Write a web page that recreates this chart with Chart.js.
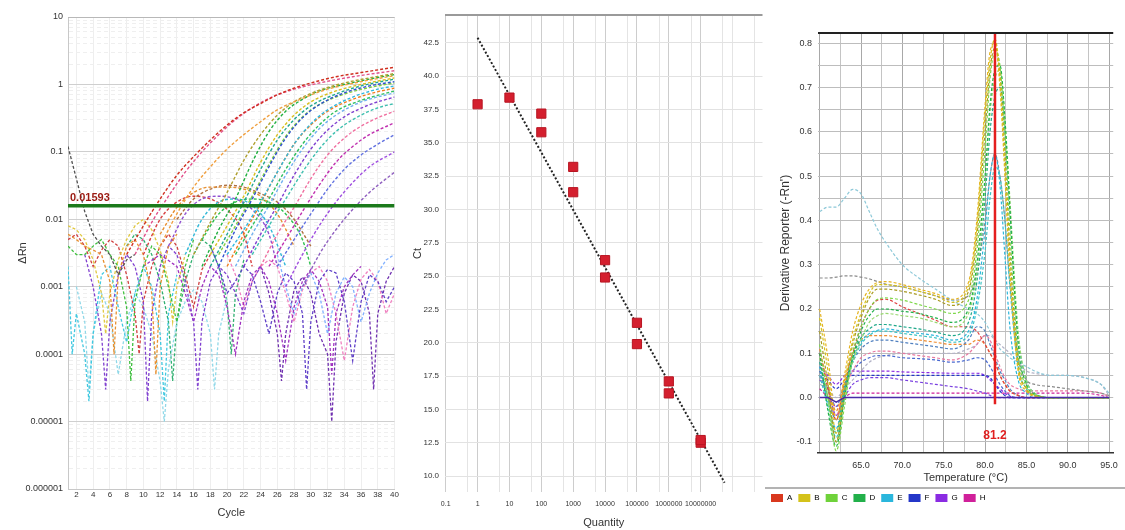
<!DOCTYPE html>
<html>
<head>
<meta charset="utf-8">
<script src="https://cdn.jsdelivr.net/npm/chart.js@4.4.1/dist/chart.umd.min.js"></script>
<style>
  html, body { margin: 0; padding: 0; background: #fff; }
  body { width: 1125px; height: 530px; position: relative; overflow: hidden; }
  canvas { position: absolute; top: 0; }
  #amp { left: 0; }
  #std { left: 400px; }
  #melt { left: 765px; }
</style>
</head>
<body>
<canvas id="amp" width="400" height="530"></canvas>
<canvas id="std" width="370" height="530"></canvas>
<canvas id="melt" width="360" height="530"></canvas>
<script>
(function () {
  'use strict';

  // ---- panel 1: amplification plot (cycle vs dRn, log) ----
  const CYCLE_TICKS = [2, 4, 6, 8, 10, 12, 14, 16, 18, 20, 22, 24, 26, 28, 30, 32, 34, 36, 38, 40];
  const DRN_TICKS = [10, 1, 0.1, 0.01, 0.001, 0.0001, 0.00001, 0.000001];
  const DRN_TICK_LABELS = ['10', '1', '0.1', '0.01', '0.001', '0.0001', '0.00001', '0.000001'];
  const THRESHOLD = 0.01593;
  const THRESHOLD_LABEL = '0.01593';

  // [cycle, dRn]
  const ampRed = [[8,0.003],[10,0.008],[12,0.02],[14,0.045],[16,0.085],[18,0.15],[20,0.25],[22,0.38],[24,0.52],[26,0.7],[28,0.88],[30,1.05],[33,1.3],[36,1.5],[40,1.8]];
  const ampPink = [[9,0.003],[11,0.009],[13,0.022],[15,0.05],[17,0.1],[19,0.18],[21,0.3],[23,0.45],[25,0.62],[28,0.85],[31,1.05],[35,1.3],[40,1.6]];
  const ampAmber = [[12,0.004],[14,0.012],[16,0.03],[18,0.06],[20,0.11],[22,0.18],[24,0.28],[26,0.42],[29,0.62],[32,0.85],[36,1.1],[40,1.35]];
  const ampOlive = [[16,0.003],[18,0.009],[20,0.025],[22,0.075],[24,0.18],[26,0.35],[28,0.55],[31,0.82],[34,1.05],[37,1.25],[40,1.45]];
  const ampGreen = [[17,0.002],[19,0.007],[21,0.02],[23,0.07],[25,0.2],[27,0.4],[29,0.6],[31,0.8],[34,1.0],[37,1.2],[40,1.4]];
  const ampYellow = [[18,0.003],[20,0.008],[22,0.022],[24,0.07],[26,0.18],[28,0.35],[30,0.55],[33,0.8],[36,1.0],[40,1.25]];
  const ampTeal = [[18,0.002],[20,0.006],[22,0.018],[24,0.055],[26,0.15],[28,0.3],[30,0.48],[33,0.72],[36,0.95],[40,1.2]];
  const ampBlue = [[19,0.002],[21,0.007],[23,0.02],[25,0.06],[27,0.16],[29,0.32],[31,0.5],[34,0.75],[37,0.95],[40,1.1]];
  const ampLime = [[19,0.003],[21,0.008],[23,0.022],[25,0.065],[27,0.17],[29,0.33],[31,0.5],[34,0.72],[37,0.9],[40,1.05]];
  const ampCyan = [[20,0.003],[22,0.007],[24,0.018],[26,0.05],[28,0.13],[30,0.26],[32,0.42],[35,0.65],[38,0.85],[40,0.95]];
  const ampOrange = [[20,0.002],[22,0.006],[24,0.017],[26,0.05],[28,0.13],[30,0.25],[32,0.4],[35,0.6],[38,0.78],[40,0.88]];
  const ampJade = [[21,0.003],[23,0.008],[25,0.02],[27,0.055],[29,0.13],[31,0.25],[33,0.4],[36,0.58],[40,0.8]];
  const ampSky = [[21,0.002],[23,0.006],[25,0.016],[27,0.045],[29,0.11],[31,0.22],[33,0.35],[36,0.55],[40,0.75]];
  const ampPurple = [[22,0.002],[24,0.006],[26,0.016],[28,0.045],[30,0.11],[32,0.21],[34,0.33],[37,0.5],[40,0.65]];
  const ampAqua = [[23,0.003],[25,0.008],[27,0.02],[29,0.05],[31,0.11],[33,0.2],[35,0.3],[38,0.45],[40,0.52]];
  const ampRose = [[24,0.002],[26,0.006],[28,0.015],[30,0.04],[32,0.09],[34,0.16],[36,0.24],[38,0.32],[40,0.4]];
  const ampMagenta = [[25,0.002],[27,0.005],[29,0.013],[31,0.032],[33,0.07],[35,0.12],[37,0.18],[40,0.27]];
  const ampIndigo = [[26,0.002],[28,0.005],[30,0.012],[32,0.028],[34,0.055],[36,0.09],[38,0.13],[40,0.18]];
  const ampLilac = [[27,0.001],[29,0.003],[31,0.008],[33,0.018],[35,0.035],[37,0.06],[40,0.1]];
  const ampViolet = [[29,0.001],[31,0.003],[33,0.007],[35,0.014],[37,0.025],[40,0.05]];

  const humpOrange = [[12,0.006],[14,0.015],[16,0.025],[18,0.03],[20,0.03],[22,0.028],[24,0.022],[26,0.012],[28,0.004]];
  const humpPurple = [[13,0.004],[15,0.012],[17,0.02],[19,0.022],[21,0.02],[23,0.014],[25,0.006],[26,0.002]];
  const humpGreen = [[17,0.005],[19,0.012],[21,0.018],[23,0.02],[25,0.018],[27,0.012],[29,0.005],[30,0.002]];
  const humpCyan = [[15,0.003],[17,0.01],[19,0.018],[21,0.02],[23,0.016],[25,0.008],[27,0.002]];
  const humpBrown = [[14,0.01],[16,0.02],[18,0.028],[20,0.032],[22,0.03],[24,0.024],[26,0.018],[28,0.01],[30,0.004]];
  const humpRed = [[10,0.003],[12,0.01],[14,0.018],[16,0.022],[18,0.02],[20,0.014],[22,0.006],[23,0.002]];

  const noiseGray = [[1,0.12],[2,0.04],[3,0.013],[4,0.006],[5,0.004],[6,0.003],[7,0.0015],[8,0.0025],[9,0.003]];
  const noiseOrange = [[1,0.006],[2,0.005],[3,0.004],[4,0.0035],[5,0.003],[6,0.0012],[6.5,0.0001],[7,0.0015],[8,0.004],[9,0.005],[10,0.003],[11,0.0008],[11.5,0.00005],[12,0.001],[13,0.004],[14,0.006]];
  const noiseGreen = [[1,0.004],[2,0.003],[3,0.003],[4,0.004],[5,0.005],[6,0.003],[7,0.002],[8,0.0005],[8.5,0.00004],[9,0.0006],[10,0.002],[11,0.004],[12,0.003],[13,0.001],[14,0.0003],[15,0.002],[16,0.005]];
  const noiseCyan = [[1,0.002],[1.5,0.0001],[2,0.0004],[3,0.0001],[3.5,0.00002],[4,0.0002],[5,0.0015],[6,0.002],[7,0.0005],[8,0.00015],[9,0.0008],[10,0.002],[11,0.001],[12,0.0002],[12.5,0.00002],[13,0.0004],[14,0.0015]];
  const noisePurple = [[3,0.003],[4,0.001],[5,0.0002],[5.5,0.00003],[6,0.0003],[7,0.0015],[8,0.003],[9,0.002],[10,0.0006],[10.5,0.00002],[11,0.0004],[12,0.002],[13,0.004],[14,0.003],[15,0.0012],[16,0.0003],[16.5,0.00003],[17,0.0003],[18,0.0012],[19,0.002],[20,0.0015],[21,0.0008],[22,0.0004],[23,0.0012],[24,0.002]];
  const noiseViolet = [[10,0.002],[12,0.003],[14,0.002],[15,0.0008],[16,0.0003],[17,0.001],[18,0.002],[19,0.0015],[20,0.0005],[21,0.0001],[22,0.0006],[23,0.0015],[24,0.002],[25,0.0012],[26,0.0004],[27,0.00008],[28,0.0005],[29,0.0012],[30,0.0018],[31,0.0012],[32,0.0005],[32.5,0.00005],[33,0.0004],[34,0.001],[35,0.0015],[36,0.002]];
  const noiseIndigo = [[18,0.004],[19,0.002],[20,0.0008],[21,0.0012],[22,0.002],[23,0.0015],[24,0.0006],[25,0.0002],[26,0.0008],[27,0.0016],[28,0.0012],[29,0.0004],[29.5,0.00003],[30,0.0003],[31,0.0012],[32,0.0018],[33,0.0016],[34,0.0006],[35,0.00008],[36,0.0006],[37,0.0015],[38,0.0012],[39,0.0006],[40,0.001]];
  const noiseSky = [[26,0.003],[27,0.001],[28,0.0004],[29,0.001],[30,0.0016],[31,0.0008],[32,0.0002],[33,0.0008],[34,0.0014],[35,0.001],[36,0.0003],[37,0.0008],[38,0.0016],[39,0.0025],[40,0.003]];
  const noiseYellow = [[1,0.008],[2,0.007],[3,0.005],[4,0.0025],[5,0.0008],[5.5,0.0002],[6,0.0008],[7,0.0025],[8,0.005],[9,0.008],[10,0.01],[11,0.007],[12,0.0035],[13,0.0012],[13.5,0.0003],[14,0.001],[15,0.003]];
  const noiseRed = [[1,0.005],[2,0.006],[3,0.004],[4,0.002],[5,0.0035],[6,0.005],[7,0.004],[8,0.0015],[9,0.0004],[9.5,0.0001],[10,0.0006],[11,0.002],[12,0.004],[13,0.006],[14,0.004],[15,0.0015],[16,0.0005],[17,0.0018],[18,0.003]];
  const noiseIce = [[2,0.001],[3,0.0003],[3.5,0.00003],[4,0.0002],[5,0.0008],[6,0.0004],[7,0.00005],[8,0.0003],[9,0.0008],[10,0.0005],[11,0.0002],[12,0.00004],[12.5,0.00001],[13,0.00006],[14,0.0003],[15,0.0006],[16,0.0009],[17,0.0006],[18,0.0002],[18.5,0.00003],[19,0.0002],[20,0.0007]];
  const noisePink = [[20,0.003],[21,0.0015],[22,0.0005],[23,0.0012],[24,0.002],[25,0.0025],[26,0.002],[27,0.0008],[28,0.0003],[29,0.0009],[30,0.0016],[31,0.002],[32,0.0012],[33,0.0004],[34,0.00008],[35,0.0005],[36,0.0013],[37,0.0018],[38,0.0012],[39,0.0004],[40,0.0008]];
  const noisePlum = [[24,0.002],[25,0.0008],[26,0.0002],[26.5,0.00004],[27,0.0002],[28,0.0009],[29,0.0014],[30,0.0008],[31,0.0002],[32,0.0001],[32.5,0.00001],[33,0.00015],[34,0.0008],[35,0.0015],[36,0.0012],[37,0.0004],[37.5,0.00003],[38,0.0004],[39,0.0012],[40,0.002]];
  const noiseJade = [[8,0.004],[9,0.006],[10,0.005],[11,0.003],[12,0.0012],[13,0.0003],[13.5,0.00004],[14,0.0003],[15,0.0012],[16,0.003],[17,0.005],[18,0.004],[19,0.002],[20,0.0006],[20.5,0.0001],[21,0.0008],[22,0.0025]];

  // ---- panel 2: standard curve ----
  const QTY_TICKS = [0.1, 1, 10, 100, 1000, 10000, 100000, 1000000, 10000000];
  const QTY_TICK_LABELS = ['0.1', '1', '10', '100', '1000', '10000', '100000', '1000000', '10000000'];
  const CT_TICKS = [10, 12.5, 15, 17.5, 20, 22.5, 25, 27.5, 30, 32.5, 35, 37.5, 40, 42.5];
  const STD_QTY = [1, 10, 100, 100, 1000, 1000, 10000, 10000, 100000, 100000, 1000000, 1000000, 10000000, 10000000];
  const STD_CT = [37.9, 38.4, 37.2, 35.8, 33.2, 31.3, 26.2, 24.9, 21.5, 19.9, 17.1, 16.2, 12.5, 12.7];
  const FIT_QTY = [1, 56000000];
  const FIT_CT = [42.9, 9.5];

  // ---- panel 3: melt curve ----
  const TEMPS = [60, 61, 62, 63, 64, 65, 66, 67, 68, 70, 72, 74, 76, 78, 79, 80, 80.6, 81.2, 81.8, 82.4, 83, 84, 85, 86, 88, 90, 92, 94, 95];
  const TEMP_LABELED = [65, 70, 75, 80, 85, 90, 95];
  const MELT_PEAK = 81.2;
  const MELT_PEAK_LABEL = '81.2';
  const ROW_LABELS = ['A', 'B', 'C', 'D', 'E', 'F', 'G', 'H'];
  const ROW_COLORS = ['#d9381e', '#d4c21a', '#6fd23a', '#22b04a', '#2ab6dc', '#2436c8', '#8a2be2', '#d0209a'];

  const meltYellow = [0.18,0.06,-0.08,0.03,0.13,0.19,0.235,0.255,0.255,0.25,0.24,0.23,0.215,0.25,0.38,0.64,0.76,0.81,0.72,0.52,0.3,0.07,0.02,0.005,0,0,0,0,0];
  const meltOlive = [0.15,0.03,-0.1,0.01,0.12,0.18,0.225,0.245,0.245,0.24,0.232,0.222,0.208,0.24,0.36,0.6,0.74,0.79,0.73,0.55,0.33,0.08,0.02,0.005,0,0,0,0,0];
  const meltLime = [0.12,0.0,-0.12,-0.02,0.1,0.16,0.2,0.222,0.225,0.22,0.21,0.2,0.19,0.22,0.33,0.56,0.72,0.78,0.75,0.6,0.38,0.1,0.025,0.006,0,0,0,0,0];
  const meltGreen = [0.1,-0.03,-0.11,0.0,0.09,0.15,0.185,0.2,0.2,0.195,0.19,0.18,0.17,0.2,0.3,0.5,0.66,0.74,0.75,0.63,0.43,0.12,0.03,0.008,0,0,0,0,0];
  const meltGold = [0.2,0.09,-0.05,0.05,0.15,0.21,0.245,0.26,0.262,0.255,0.245,0.235,0.222,0.26,0.4,0.66,0.78,0.8,0.7,0.5,0.28,0.06,0.015,0.003,0,0,0,0,0];
  const meltMint = [0.09,0.0,-0.1,0.0,0.08,0.13,0.17,0.185,0.19,0.185,0.18,0.17,0.16,0.19,0.28,0.48,0.64,0.72,0.74,0.63,0.45,0.15,0.04,0.01,0,0,0,0,0];
  const meltTeal = [0.08,0.0,-0.08,0.02,0.09,0.135,0.155,0.165,0.165,0.16,0.155,0.148,0.14,0.17,0.26,0.45,0.6,0.68,0.7,0.6,0.42,0.14,0.04,0.01,0,0,0,0,0];
  const meltAqua = [0.05,-0.02,-0.09,0.01,0.08,0.12,0.14,0.15,0.15,0.145,0.14,0.135,0.125,0.14,0.2,0.33,0.45,0.52,0.5,0.4,0.25,0.07,0.02,0.005,0,0,0,0,0];
  const meltCyan = [0.07,-0.01,-0.07,0.02,0.085,0.125,0.145,0.152,0.155,0.15,0.145,0.14,0.13,0.15,0.22,0.38,0.5,0.55,0.48,0.32,0.16,0.04,0.01,0,0,0,0,0,0];
  const meltSky = [0.42,0.43,0.43,0.45,0.47,0.46,0.42,0.38,0.35,0.3,0.27,0.245,0.22,0.2,0.19,0.17,0.15,0.13,0.11,0.1,0.09,0.08,0.07,0.06,0.05,0.05,0.045,0.03,0.01];
  const meltGray = [0.27,0.27,0.272,0.275,0.275,0.272,0.268,0.262,0.256,0.25,0.24,0.23,0.22,0.23,0.28,0.4,0.5,0.55,0.5,0.4,0.26,0.09,0.04,0.03,0.025,0.02,0.015,0.01,0.005];
  const meltRed = [0.1,0.02,-0.05,0.03,0.1,0.16,0.2,0.22,0.222,0.205,0.19,0.175,0.16,0.16,0.15,0.12,0.1,0.08,0.05,0.03,0.015,0.005,0,0,0,0,0,0,0];
  const meltSteel = [0.06,0.0,-0.05,0.02,0.08,0.11,0.125,0.13,0.13,0.125,0.12,0.115,0.11,0.13,0.16,0.15,0.12,0.09,0.06,0.04,0.02,0.005,0,0,0,0,0,0,0];
  const meltOrange = [0.11,0.03,-0.03,0.04,0.1,0.13,0.14,0.14,0.14,0.135,0.13,0.125,0.12,0.12,0.13,0.12,0.1,0.08,0.05,0.03,0.015,0.005,0,0,0,0,0,0,0];
  const meltPink = [0.05,0.0,-0.04,0.02,0.06,0.09,0.1,0.105,0.105,0.1,0.095,0.09,0.085,0.1,0.12,0.14,0.13,0.1,0.07,0.045,0.03,0.02,0.015,0.015,0.015,0.015,0.015,0.01,0.002];
  const meltNavy = [0.05,0.02,-0.02,0.03,0.06,0.08,0.09,0.095,0.095,0.09,0.088,0.085,0.08,0.085,0.09,0.085,0.07,0.05,0.03,0.015,0.005,0,0,0,0,0,0,0,0];
  const meltMist = [0.03,0.02,0.0,0.02,0.04,0.06,0.08,0.09,0.095,0.1,0.1,0.1,0.1,0.11,0.12,0.14,0.14,0.13,0.12,0.11,0.1,0.08,0.06,0.055,0.05,0.05,0.045,0.03,0.005];
  const meltBlue = [0.06,0.04,0.02,0.04,0.05,0.05,0.05,0.05,0.05,0.05,0.05,0.05,0.05,0.05,0.05,0.05,0.045,0.03,0.015,0.005,0,0,0,0,0,0,0,0,0];
  const meltPurple = [0.07,0.05,0.03,0.05,0.06,0.06,0.06,0.06,0.06,0.058,0.057,0.056,0.055,0.055,0.055,0.05,0.04,0.03,0.02,0.01,0.003,0,0,0,0,0,0,0,0];
  const meltViolet = [0.04,0.02,-0.04,0.0,0.03,0.04,0.045,0.045,0.045,0.04,0.035,0.03,0.025,0.02,0.015,0.01,0.005,0,0,0,0,0,0,0,0,0,0,0,0];
  const meltMagenta = [0.02,0.0,-0.02,0.0,0.01,0.01,0.01,0.01,0.01,0.01,0.01,0.01,0.01,0.01,0.01,0.01,0.01,0.01,0.01,0.01,0.01,0.01,0.01,0.01,0.01,0.01,0.01,0.005,0];
  const meltZero = [0,0,-0.01,0,0,0,0,0,0,0,0,0,0,0,0,0,0,0,0,0,0,0,0,0,0,0,0,0,0];

  const FONT = "'Liberation Sans', Arial, sans-serif";
  Chart.defaults.font.family = FONT;
  Chart.defaults.color = '#333';
  Chart.defaults.animation = false;
  Chart.defaults.plugins.legend.display = false;
  Chart.defaults.plugins.tooltip.enabled = false;

  const isOn = (v, list) => list.some(d => Math.abs(Math.log10(d) - Math.log10(v)) < 1e-6);

  function dashed(points, color, mode, width) {
    return {
      data: points.map(p => ({ x: p[0], y: p[1] })),
      borderColor: color,
      borderWidth: width || 1.1,
      borderDash: [3, 2],
      pointRadius: 0,
      cubicInterpolationMode: mode || 'default',
      tension: mode ? 0.4 : 0,
    };
  }

  // ---------------- panel 1 ----------------
  const ampLines = [
    [ampRed, '#d03020'], [ampPink, '#e2508a'], [ampAmber, '#f0a040'], [ampOlive, '#b0a030'],
    [ampGreen, '#20b040'], [ampYellow, '#d8c020'], [ampTeal, '#20a890'], [ampBlue, '#3050d0'],
    [ampLime, '#80d040'], [ampCyan, '#30b8e0'], [ampOrange, '#f08020'], [ampJade, '#30c060'],
    [ampSky, '#70b0f0'], [ampPurple, '#8040d0'], [ampAqua, '#40c0b0'], [ampRose, '#f070a0'],
    [ampMagenta, '#c030b0'], [ampIndigo, '#6070e0'], [ampLilac, '#a050e0'], [ampViolet, '#9060c0'],
  ];
  const humpLines = [
    [humpOrange, '#e89030'], [humpPurple, '#9050d0'], [humpGreen, '#30c050'],
    [humpCyan, '#30b8d8'], [humpBrown, '#b07040'], [humpRed, '#d84040'],
  ];
  const noiseLines = [
    [noiseGray, '#505050'], [noiseOrange, '#e89030'], [noiseGreen, '#40c040'], [noiseCyan, '#40c8e0'],
    [noisePurple, '#8040d0'], [noiseViolet, '#a030c0'], [noiseIndigo, '#6040c8'], [noiseSky, '#80b0ff'],
    [noiseYellow, '#e0c840'], [noiseRed, '#d04040'], [noiseIce, '#90d8e8'], [noisePink, '#f080c0'],
    [noisePlum, '#7030b0'], [noiseJade, '#30b070'],
  ];

  const ampDatasets = [{
    data: [{ x: 1, y: THRESHOLD }, { x: 40, y: THRESHOLD }],
    borderColor: '#1b7a1b', borderWidth: 3.5, pointRadius: 0,
  }];
  ampLines.forEach(([p, c]) => ampDatasets.push(dashed(p, c, 'monotone', 1.4)));
  humpLines.forEach(([p, c]) => ampDatasets.push(dashed(p, c, 'monotone', 1.4)));
  noiseLines.forEach(([p, c]) => ampDatasets.push(dashed(p, c, null, 1.3)));

  const ampDecor = {
    id: 'ampDecor',
    afterDatasetsDraw(chart) {
      const { ctx, chartArea: a, scales: { y } } = chart;
      const ty = y.getPixelForValue(THRESHOLD);
      ctx.save();
      ctx.font = 'bold 11px ' + FONT;
      ctx.fillStyle = '#9a1a12';
      ctx.textBaseline = 'bottom';
      ctx.fillText(THRESHOLD_LABEL, a.left + 2, ty - 2);
      ctx.strokeStyle = '#b8b8b8';
      ctx.lineWidth = 1;
      ctx.beginPath();
      ctx.moveTo(a.left, a.top + 0.5);
      ctx.lineTo(a.right, a.top + 0.5);
      ctx.stroke();
      ctx.restore();
    },
  };

  new Chart(document.getElementById('amp'), {
    type: 'line',
    data: { datasets: ampDatasets },
    plugins: [ampDecor],
    options: {
      responsive: false,
      devicePixelRatio: 1,
      layout: { padding: { top: 17, right: 3, left: 0, bottom: 0 } },
      scales: {
        x: {
          type: 'linear', min: 1, max: 40,
          afterBuildTicks: s => { s.ticks = CYCLE_TICKS.map(v => ({ value: v })); },
          afterFit: s => { s.height = 41; },
          ticks: { autoSkip: false, maxRotation: 0, padding: 1, font: { size: 8 } },
          grid: { color: '#eeeeee', drawTicks: false },
          border: { color: '#c8c8c8' },
          title: { display: true, text: 'Cycle', font: { size: 11 }, padding: { top: 0, bottom: 10 } },
        },
        y: {
          type: 'logarithmic', min: 0.000001, max: 10,
          afterBuildTicks: s => {
            const t = [];
            for (let e = -6; e <= 1; e++) {
              for (let m = 1; m <= 9; m++) {
                const v = m * Math.pow(10, e);
                if (v <= 10.0001) t.push({ value: v });
              }
            }
            s.ticks = t;
          },
          afterFit: s => { s.width = 68; },
          ticks: {
            autoSkip: false, padding: 5, font: { size: 9 },
            callback: v => {
              const k = DRN_TICKS.findIndex(d => Math.abs(Math.log10(d) - Math.log10(v)) < 1e-6);
              return k < 0 ? '' : DRN_TICK_LABELS[k];
            },
          },
          grid: {
            drawTicks: false,
            color: c => (c.tick && isOn(c.tick.value, DRN_TICKS) ? '#cfcfcf' : '#efefef'),
          },
          border: { color: '#c8c8c8', dash: c => (c.tick && !isOn(c.tick.value, DRN_TICKS) ? [4, 3] : []) },
          title: { display: true, text: 'ΔRn', font: { size: 11 }, padding: { top: 16, bottom: 0 } },
        },
      },
    },
  });

  // ---------------- panel 2 ----------------
  const qtyGrid = [];
  QTY_TICKS.concat([100000000]).forEach(d => { qtyGrid.push(d); qtyGrid.push(5 * d); });

  const stdFrame = {
    id: 'stdFrame',
    beforeDatasetsDraw(chart) {
      const { ctx, chartArea: a } = chart;
      ctx.save();
      ctx.strokeStyle = '#9a9a9a';
      ctx.lineWidth = 2;
      ctx.beginPath();
      ctx.moveTo(a.left, a.top);
      ctx.lineTo(a.right, a.top);
      ctx.stroke();
      ctx.restore();
    },
  };

  new Chart(document.getElementById('std'), {
    type: 'scatter',
    data: {
      datasets: [
        {
          data: STD_QTY.map((q, i) => ({ x: q, y: STD_CT[i] })),
          pointStyle: 'rect', pointRadius: 6.5,
          backgroundColor: '#d41f2e', borderColor: '#b81522', borderWidth: 1,
        },
        {
          type: 'line',
          data: FIT_QTY.map((q, i) => ({ x: q, y: FIT_CT[i] })),
          borderColor: '#222', borderWidth: 2, borderDash: [2, 2], pointRadius: 0,
        },
      ],
    },
    plugins: [stdFrame],
    options: {
      responsive: false,
      devicePixelRatio: 1,
      layout: { padding: { top: 15, right: 7, left: 0, bottom: 0 } },
      scales: {
        x: {
          type: 'logarithmic', min: 0.095, max: 870000000,
          afterBuildTicks: s => { s.ticks = qtyGrid.map(v => ({ value: v })); },
          afterFit: s => { s.height = 38; },
          ticks: {
            autoSkip: false, maxRotation: 0, padding: 8, font: { size: 7 },
            callback: v => {
              const k = QTY_TICKS.findIndex(d => Math.abs(Math.log10(d) - Math.log10(v)) < 1e-6);
              return k < 0 ? '' : QTY_TICK_LABELS[k];
            },
          },
          grid: { drawTicks: false, color: c => (c.tick && isOn(c.tick.value, QTY_TICKS) ? '#cdcdcd' : '#e4e4e4') },
          border: { display: false },
          title: { display: true, text: 'Quantity', font: { size: 11 }, padding: { top: 0, bottom: 0 } },
        },
        y: {
          type: 'linear', min: 8.8, max: 44.6,
          afterBuildTicks: s => { s.ticks = CT_TICKS.map(v => ({ value: v })); },
          afterFit: s => { s.width = 45; },
          ticks: { autoSkip: false, padding: 6, font: { size: 8 }, callback: v => v.toFixed(1) },
          grid: { drawTicks: false, color: '#e2e2e2' },
          border: { display: false },
          title: { display: true, text: 'Ct', font: { size: 11 }, padding: { top: 11, bottom: 0 } },
        },
      },
    },
  });

  // ---------------- panel 3 ----------------
  const meltLines = [
    [meltYellow, '#d4c21a'], [meltOlive, '#a89a22'], [meltLime, '#7ed84a'], [meltGreen, '#22b04a'],
    [meltGold, '#e6b422'], [meltMint, '#98d870'], [meltTeal, '#1fa88a'], [meltAqua, '#3cc4c4'],
    [meltCyan, '#2ab6dc'], [meltSky, '#8cc8d8'], [meltGray, '#8a8a8a'], [meltRed, '#e04040'],
    [meltSteel, '#5080c0'], [meltOrange, '#f08c30'], [meltPink, '#e878a0'], [meltNavy, '#4a6ad0'],
    [meltMist, '#b4b4c8'], [meltBlue, '#2436c8'], [meltPurple, '#8a2be2'], [meltViolet, '#7a40e0'],
    [meltMagenta, '#d0209a'],
  ];
  const meltDatasets = [{
    data: [{ x: MELT_PEAK, y: 0.823 }, { x: MELT_PEAK, y: -0.015 }],
    borderColor: '#e41e1e', borderWidth: 2.5, pointRadius: 0,
  }];
  meltDatasets.push({
    data: TEMPS.map((t, i) => ({ x: t, y: meltZero[i] })),
    borderColor: '#4a2aa8', borderWidth: 1.5, pointRadius: 0,
  });
  meltLines.forEach(([vals, c]) => {
    meltDatasets.push(dashed(TEMPS.map((t, i) => [t, vals[i]]), c, 'monotone', 1.2));
  });

  const meltDecor = {
    id: 'meltDecor',
    afterDraw(chart) {
      const { ctx, chartArea: a, scales: { x, y }, legend } = chart;
      ctx.save();
      ctx.strokeStyle = '#222';
      ctx.lineWidth = 2;
      ctx.beginPath();
      ctx.moveTo(a.left, a.top);
      ctx.lineTo(a.right, a.top);
      ctx.stroke();
      ctx.strokeStyle = '#9a9a9a';
      ctx.lineWidth = 1.5;
      ctx.beginPath();
      ctx.moveTo(0, legend.top);
      ctx.lineTo(chart.width, legend.top);
      ctx.stroke();
      ctx.font = 'bold 12px ' + FONT;
      ctx.fillStyle = '#e02020';
      ctx.textAlign = 'center';
      ctx.textBaseline = 'middle';
      ctx.fillText(MELT_PEAK_LABEL, x.getPixelForValue(MELT_PEAK), y.getPixelForValue(-0.085));
      ctx.restore();
    },
  };

  const tempGrid = [];
  for (let t = 60; t <= 95; t += 2.5) tempGrid.push(t);
  const derivGrid = [];
  for (let k = -2; k <= 16; k++) derivGrid.push(k * 0.05);

  new Chart(document.getElementById('melt'), {
    type: 'line',
    data: { datasets: meltDatasets },
    plugins: [meltDecor],
    options: {
      responsive: false,
      devicePixelRatio: 1,
      layout: { padding: { top: 33, right: 10, left: 0, bottom: 18 } },
      plugins: {
        legend: {
          display: true, position: 'bottom', align: 'start',
          onClick: () => {},
          labels: {
            boxWidth: 12, boxHeight: 8, padding: 6, font: { size: 8 }, color: '#444',
            generateLabels: () => ROW_LABELS.map((t, i) => ({
              text: t, fillStyle: ROW_COLORS[i], strokeStyle: ROW_COLORS[i], lineWidth: 0, hidden: false, index: i,
            })),
          },
        },
      },
      scales: {
        x: {
          type: 'linear', min: 59.8, max: 95.5,
          afterBuildTicks: s => { s.ticks = tempGrid.map(v => ({ value: v })); },
          afterFit: s => { s.height = 35; },
          ticks: {
            autoSkip: false, maxRotation: 0, padding: 7, font: { size: 9 },
            callback: v => (TEMP_LABELED.includes(v) ? v.toFixed(1) : ''),
          },
          grid: { drawTicks: false, color: c => (c.tick && c.tick.value % 5 === 0 ? '#a8a8a8' : '#c4c4c4') },
          border: { color: '#333', width: 1.5 },
          title: { display: true, text: 'Temperature (°C)', font: { size: 11 }, padding: { top: 0, bottom: 3 } },
        },
        y: {
          type: 'linear', min: -0.125, max: 0.823,
          afterBuildTicks: s => { s.ticks = derivGrid.map(v => ({ value: v })); },
          afterFit: s => { s.width = 53; },
          ticks: {
            autoSkip: false, padding: 6, font: { size: 9 },
            callback: v => (Math.abs(Math.round(v * 10) - v * 10) < 1e-6 ? v.toFixed(1) : ''),
          },
          grid: { drawTicks: false, color: '#bdbdbd' },
          border: { display: false },
          title: { display: true, text: "Derivative Reporter (-Rn')", font: { size: 12 }, padding: { top: 13, bottom: 0 } },
        },
      },
    },
  });
})();
</script>
</body>
</html>
